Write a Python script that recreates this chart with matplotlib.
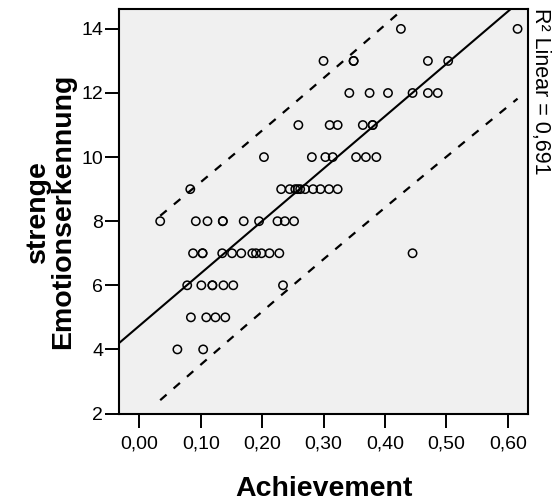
import numpy as np
import matplotlib
matplotlib.use("Agg")
import matplotlib.pyplot as plt

plt.rcParams['font.family'] = ['Liberation Sans', 'DejaVu Sans']

# Data (x = Achievement, y = strenge Emotionserkennung)
achievement = [
    0.426, 0.616,
    0.300, 0.349, 0.349, 0.470, 0.503,
    0.342, 0.375, 0.405, 0.445, 0.470, 0.486,
    0.259, 0.310, 0.323, 0.364, 0.380, 0.380,
    0.203, 0.281, 0.303, 0.315, 0.353, 0.369, 0.386,
    0.083, 0.231, 0.245, 0.254, 0.258, 0.262, 0.270, 0.283, 0.295, 0.309, 0.323,
    0.034, 0.092, 0.111, 0.136, 0.136, 0.170, 0.195, 0.225, 0.237, 0.252,
    0.0875, 0.103, 0.103, 0.135, 0.151, 0.166, 0.184, 0.190, 0.199, 0.212, 0.228, 0.445,
    0.078, 0.101, 0.119, 0.119, 0.137, 0.153, 0.234,
    0.084, 0.109, 0.124, 0.140,
    0.062, 0.104,
]
emotion = (
    [14] * 2 + [13] * 5 + [12] * 6 + [11] * 6 + [10] * 7 + [9] * 11 +
    [8] * 10 + [7] * 12 + [6] * 7 + [5] * 4 + [4] * 2
)

x_ticks = [0.0, 0.1, 0.2, 0.3, 0.4, 0.5, 0.6]
x_ticklabels = ["0,00", "0,10", "0,20", "0,30", "0,40", "0,50", "0,60"]
y_ticks = [2, 4, 6, 8, 10, 12, 14]
r2_label = "R² Linear = 0,691"
t_crit = 1.994  # t(0.975, df=70)

x = np.asarray(achievement, dtype=float)
y = np.asarray(emotion, dtype=float)
n = len(x)
slope, intercept = np.polyfit(x, y, 1)
resid = y - (slope * x + intercept)
s = np.sqrt(np.sum(resid ** 2) / (n - 2))
sxx = np.sum((x - x.mean()) ** 2)

fig = plt.figure(figsize=(5.53, 5.04), dpi=100)
ax = fig.add_axes([119.3 / 553, 1 - 413.5 / 504, (528 - 119.3) / 553, (413.5 - 8.7) / 504])
ax.set_facecolor('#f0f0f0')

xlim = (-0.0326, 0.633)
ylim = (2.0, 14.63)

# fit line across the axis
xl = np.linspace(xlim[0], xlim[1], 200)
ax.plot(xl, slope * xl + intercept, color='black', lw=1.5, zorder=2)

# 95% individual prediction interval across data range
xp = np.linspace(x.min(), x.max(), 200)
half = t_crit * s * np.sqrt(1 + 1 / n + (xp - x.mean()) ** 2 / sxx)
for sign in (1, -1):
    ax.plot(xp, slope * xp + intercept + sign * half, color='black', lw=1.6,
            linestyle=(0, (3.8, 4.2)), zorder=2)

ax.scatter(x, y, s=36, facecolors='none', edgecolors='black', linewidths=1.1, zorder=3)

ax.set_xlim(*xlim)
ax.set_ylim(*ylim)
ax.set_xticks(x_ticks)
ax.set_xticklabels(x_ticklabels)
ax.set_yticks(y_ticks)
ax.tick_params(axis='both', direction='out', length=10, width=1.4, labelsize=14,
               color='black', labelcolor='black')
ax.tick_params(axis='x', pad=6)
ax.tick_params(axis='y', pad=1.5)
for sp in ax.spines.values():
    sp.set_linewidth(1.5)
    sp.set_color('black')

ax.set_xlabel("Achievement", fontsize=20.5, fontweight='bold', labelpad=17)
ax.set_ylabel("strenge\nEmotionserkennung", fontsize=20.5, fontweight='bold',
              labelpad=4, linespacing=0.95)

fig.text(540 / 553, 1 - 8 / 504, r2_label, rotation=-90, ha='center', va='top', fontsize=15.5)

fig.savefig("out.png", dpi=100, facecolor='white')
